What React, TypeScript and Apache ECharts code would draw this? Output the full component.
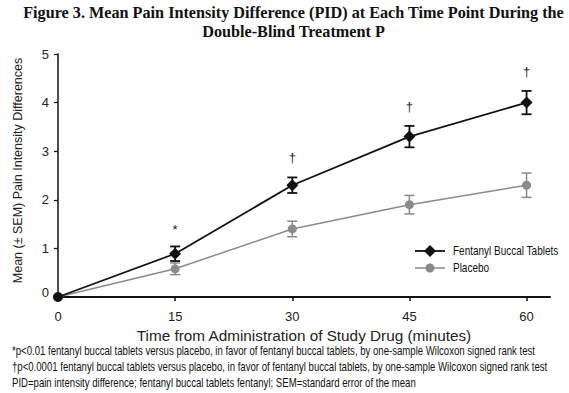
import React, { useEffect, useRef } from "react";
import * as echarts from "echarts";

const times = [0, 15, 30, 45, 60];
const fentanylMean = [0, 0.89, 2.3, 3.3, 4.0];
const fentanylSem = [0, 0.15, 0.16, 0.22, 0.24];
const placeboMean = [0, 0.58, 1.4, 1.9, 2.3];
const placeboSem = [0, 0.12, 0.16, 0.19, 0.25];
const markTimes = [15, 30, 45, 60];
const markY = [1.38, 2.88, 3.93, 4.65];
const markText = ["*", "†", "†", "†"];
const yTicks = [0, 1, 2, 3, 4, 5];
const xTicks = [0, 15, 30, 45, 60];
const legendNames = ["Fentanyl Buccal Tablets", "Placebo"];

const titleLines = [
  "Figure 3. Mean Pain Intensity Difference (PID) at Each Time Point During the",
  "Double-Blind Treatment P",
];
const footnotes = [
  "*p<0.01 fentanyl buccal tablets versus placebo, in favor of fentanyl buccal tablets, by one-sample Wilcoxon signed rank test",
  "†p<0.0001 fentanyl buccal tablets versus placebo, in favor of fentanyl buccal tablets, by one-sample Wilcoxon signed rank test",
  "PID=pain intensity difference; fentanyl buccal tablets fentanyl; SEM=standard error of the mean",
];

const SANS = '"Liberation Sans", Arial, sans-serif';
const FENT = "#111111";
const PLAC = "#8a8a8a";

function errorSeries(name: string, means: number[], sems: number[], color: string, width: number) {
  return {
    type: "custom",
    name: name + "-err",
    silent: true,
    z: 3,
    data: times.slice(1).map((t, i) => [t, means[i + 1] - sems[i + 1], means[i + 1] + sems[i + 1]]),
    renderItem: (params: any, api: any) => {
      const lo = api.coord([api.value(0), api.value(1)]);
      const hi = api.coord([api.value(0), api.value(2)]);
      const cw = 5;
      const style = { stroke: color, lineWidth: width };
      return {
        type: "group",
        children: [
          { type: "line", shape: { x1: lo[0], y1: lo[1], x2: hi[0], y2: hi[1] }, style },
          { type: "line", shape: { x1: lo[0] - cw, y1: lo[1], x2: lo[0] + cw, y2: lo[1] }, style },
          { type: "line", shape: { x1: hi[0] - cw, y1: hi[1], x2: hi[0] + cw, y2: hi[1] }, style },
        ],
      };
    },
  };
}

function legendItem(i: number) {
  const y = 251 + i * 17;
  const color = i === 0 ? FENT : PLAC;
  const marker =
    i === 0
      ? { type: "polygon", shape: { points: [[430, y - 6], [436, y], [430, y + 6], [424, y]] }, style: { fill: color } }
      : { type: "circle", shape: { cx: 430, cy: y, r: 4.5 }, style: { fill: color } };
  return {
    type: "group",
    children: [
      { type: "line", shape: { x1: 415, y1: y, x2: 445, y2: y }, style: { stroke: color, lineWidth: i === 0 ? 1.8 : 1.5 } },
      marker,
      {
        type: "text",
        x: 453,
        y,
        scaleX: 0.8,
        style: { text: legendNames[i], fontFamily: SANS, fontSize: 12.5, fill: "#111", align: "left", verticalAlign: "middle" },
      },
    ],
  };
}

export default function App() {
  const ref = useRef<HTMLDivElement>(null);
  useEffect(() => {
    document.body.style.margin = "0";
    const chart = echarts.init(ref.current!, null, { renderer: "svg" });
    chart.setOption({
      animation: false,
      backgroundColor: "#ffffff",
      grid: { left: 58, right: 19, top: 54, bottom: 96, containLabel: false },
      xAxis: {
        type: "value",
        min: 0,
        max: 63,
        name: "Time from Administration of Study Drug (minutes)",
        nameLocation: "middle",
        nameGap: 25,
        nameTextStyle: { fontFamily: SANS, fontSize: 15.3, color: "#222" },
        axisLine: { show: true, lineStyle: { color: "#111", width: 2 } },
        axisTick: { show: true, length: 4, customValues: xTicks, lineStyle: { color: "#111", width: 1.5 } },
        axisLabel: { customValues: xTicks, fontFamily: SANS, fontSize: 13, color: "#222", margin: 13 },
        splitLine: { show: false },
      },
      yAxis: {
        type: "value",
        min: 0,
        max: 5,
        name: "Mean (± SEM) Pain Intensity Differences",
        nameLocation: "middle",
        nameGap: 34,
        nameTextStyle: { fontFamily: SANS, fontSize: 12.5, color: "#222", padding: [0, 0, 0, 10] },
        axisLine: { show: true, lineStyle: { color: "#111", width: 1.5 } },
        axisTick: { show: true, length: 4, customValues: [1, 2, 3, 4, 5], lineStyle: { color: "#111", width: 1.2 } },
        axisLabel: {
          customValues: yTicks,
          fontFamily: SANS,
          fontSize: 13,
          color: "#222",
          margin: 9,
          formatter: (v: number) => (v === 0 ? "{z|0}" : String(v)),
          rich: { z: { fontFamily: SANS, fontSize: 13, color: "#222", padding: [0, 0, 9, 0] } },
        },
        splitLine: { show: false },
      },
      series: [
        {
          type: "line",
          name: "Placebo",
          data: times.map((t, i) => [t, placeboMean[i]]),
          symbol: "circle",
          symbolSize: 9,
          lineStyle: { color: PLAC, width: 1.5 },
          itemStyle: { color: PLAC },
          z: 4,
        },
        {
          type: "line",
          name: "Fentanyl Buccal Tablets",
          data: times.map((t, i) =>
            i === 0 ? { value: [t, fentanylMean[i]], symbol: "circle", symbolSize: 10 } : [t, fentanylMean[i]]
          ),
          symbol: "diamond",
          symbolSize: 12,
          lineStyle: { color: FENT, width: 1.8 },
          itemStyle: { color: FENT },
          z: 5,
        },
        errorSeries("Placebo", placeboMean, placeboSem, PLAC, 1.5),
        errorSeries("Fentanyl", fentanylMean, fentanylSem, FENT, 1.8),
        {
          type: "custom",
          name: "marks",
          silent: true,
          data: markTimes.map((t, i) => [t, markY[i]]),
          renderItem: (params: any, api: any) => {
            const p = api.coord([api.value(0), api.value(1)]);
            return {
              type: "text",
              x: p[0],
              y: p[1],
              style: {
                text: markText[params.dataIndex],
                fontFamily: SANS,
                fontSize: 13,
                fill: "#222",
                align: "center",
                verticalAlign: "middle",
              },
            };
          },
        },
      ],
      graphic: [
        ...titleLines.map((s, i) => ({
          type: "text",
          x: 293.5,
          y: 13 + i * 19,
          style: {
            text: s,
            fontFamily: '"Liberation Serif", "Times New Roman", serif',
            fontWeight: "bold",
            fontSize: 16.2,
            fill: "#111",
            align: "center",
            verticalAlign: "middle",
          },
        })),
        legendItem(0),
        legendItem(1),
        ...footnotes.map((s, i) => ({
          type: "text",
          x: 12,
          y: 350 + i * 16,
          scaleX: 0.75,
          style: {
            text: s,
            fontFamily: SANS,
            fontSize: 12.8,
            fill: "#111",
            align: "left",
            verticalAlign: "middle",
          },
        })),
      ],
    });
    return () => chart.dispose();
  }, []);
  return <div ref={ref} style={{ width: 569, height: 393 }} />;
}
